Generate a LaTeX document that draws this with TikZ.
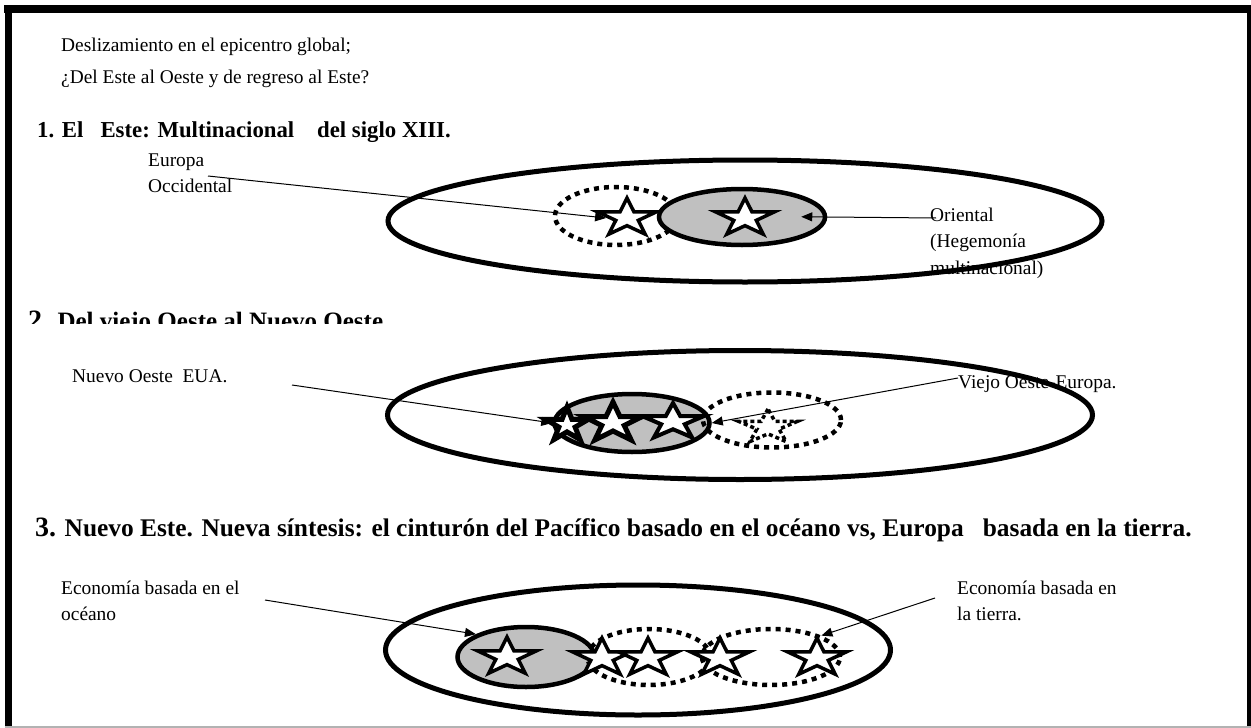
\documentclass[tikz,border=0pt]{standalone}
\usepackage{fontspec}
\setmainfont{Liberation Serif}
\usepackage{tikz}
\usetikzlibrary{shapes.geometric, arrows.meta}
\definecolor{grisclaro}{RGB}{192,192,192}

\begin{document}
\begin{tikzpicture}[x=1pt, y=-1pt,
  texto/.style={anchor=base west, align=left, inner sep=0pt, font=\fontsize{19.4}{26.5}\selectfont},
  titulo/.style={anchor=base west, inner sep=0pt, font=\fontsize{22.8}{26}\selectfont\bfseries},
  grande/.style={ellipse, draw, line width=5pt, inner sep=0pt},
  gris/.style={ellipse, draw, fill=grisclaro, line width=4.5pt, inner sep=0pt},
  punteado/.style={ellipse, draw, line width=4.5pt, dash pattern=on 5pt off 5pt, inner sep=0pt},
  estrella/.style={star, star points=5, star point ratio=2.618, draw, fill=white, line width=3.5pt, minimum size=40pt, inner sep=0pt, xscale=1.55},
  flecha/.style={-{Triangle[length=11pt, width=9pt]}, line width=1pt}]

  \useasboundingbox (0,0) rectangle (1251,728);

  % marco
  \fill (4,5) rectangle (1251,13);
  \fill (5,5) rectangle (12,728);
  \fill (1247,5) rectangle (1251,728);
  \draw[gray!60, line width=1.5pt] (5,727) -- (1251,727);

  \node[texto] (intro) at (61,83.5) {Deslizamiento en el epicentro global;\\[6pt]¿Del Este al Oeste y de regreso al Este?};

  % 1
  \node[titulo] (t1) at (37,137) {1. El\ \ \ Este: Multinacional\ \ \ \ del siglo XIII.};
  \node[grande, minimum width=714pt, minimum height=122pt] (e1) at (745,221) {};
  \node[punteado, minimum width=122pt, minimum height=58pt] (d1) at (616,216) {};
  \node[estrella] (s1a) at (627,218) {};
  \node[gris, minimum width=166pt, minimum height=56pt] (g1) at (742,217) {};
  \node[estrella] (s1b) at (745,218) {};
  \node[texto] (eo) at (148,192.5) {Europa\\Occidental};
  \node[texto] (or) at (930,274) {Oriental\\(Hegemonía\\multinacional)};
  \coordinate (c1eo) at (208,176);
  \coordinate (c1or) at (936,218);
  \draw[flecha] (c1eo) -- (s1a.west);
  \draw[flecha, shorten >=-26pt] (c1or) -- (g1.east);

  % 2
  \begin{scope}
    \clip (20,300) rectangle (600,323);
    \node[anchor=base west, inner sep=0pt, font=\fontsize{25}{26}\selectfont\bfseries] (t2) at (28,329) {{\fontsize{28}{26}\selectfont 2.} Del viejo Oeste al Nuevo Oeste.};
  \end{scope}
  \node[grande, minimum width=705pt, minimum height=129pt] (e2) at (740,415) {};
  \node[gris, minimum width=155pt, minimum height=58pt] (g2) at (632,423) {};
  \node[estrella, minimum size=36pt, line width=5pt, xscale=0.8] (s2a) at (567,425) {};
  \node[estrella, minimum size=42pt, line width=5pt, xscale=0.95] (s2b) at (613,423) {};
  \node[estrella, minimum size=38pt, line width=4pt, xscale=1.1] (s2c) at (673,422) {};
  \node[punteado, minimum width=138pt, minimum height=55pt] (d2) at (772,420) {};
  \node[estrella, fill=none, dash pattern=on 4pt off 3pt, minimum size=36pt, xscale=1.1] (s2d) at (768,427) {};
  \node[texto] (no) at (72,382) {Nuevo Oeste\ \ EUA.};
  \node[texto] (vo) at (958,388) {Viejo Oeste-Europa.};
  \coordinate (c2no) at (292,385);
  \coordinate (c2vo) at (958,378);
  \draw[flecha] (c2no) -- (g2.west);
  \draw[flecha] (c2vo) -- (g2.east);

  % 3
  \node[anchor=base west, inner sep=0pt, font=\fontsize{25.4}{26}\selectfont\bfseries] (t3) at (35,536) {{\fontsize{28}{26}\selectfont 3.} Nuevo Este. Nueva síntesis: el cinturón del Pacífico basado en el océano vs, Europa\ \ \ basada en la tierra.};
  \node[grande, minimum width=505pt, minimum height=130pt] (e3) at (638,650) {};
  \node[gris, minimum width=137pt, minimum height=60pt] (g3) at (526,657) {};
  \node[punteado, minimum width=123pt, minimum height=56pt] (d3a) at (649,657) {};
  \node[punteado, minimum width=138pt, minimum height=56pt] (d3b) at (771,657) {};
  \node[estrella] (s3a) at (507,657) {};
  \node[estrella] (s3b) at (602,658) {};
  \node[estrella] (s3c) at (648,658) {};
  \node[estrella] (s3d) at (720,658) {};
  \node[estrella] (s3e) at (817,658) {};
  \node[texto] (oc) at (61,620.5) {Economía basada en el\\océano};
  \node[texto] (ti) at (957,620.5) {Economía basada en\\la tierra.};
  \coordinate (c3oc) at (265,600);
  \coordinate (c3ti) at (935,598);
  \draw[flecha] (c3oc) -- (g3.north west);
  \draw[flecha] (c3ti) -- (d3b.north east);
\end{tikzpicture}
\end{document}
